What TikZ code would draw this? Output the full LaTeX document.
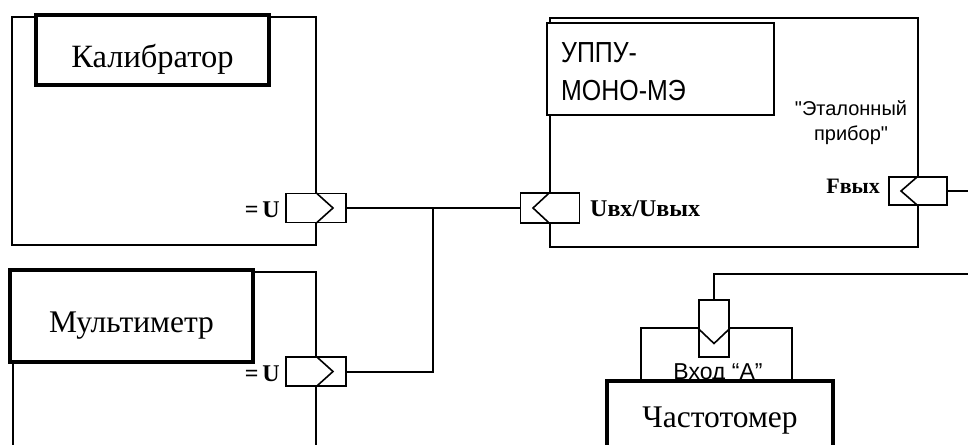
\documentclass[tikz,border=0pt]{standalone}
\usepackage{fontspec}
\setmainfont{Liberation Serif}
\newfontfamily\arialf{Liberation Sans}
\newcommand{\narrowtxt}[1]{\scalebox{0.86}[1]{#1}}
\begin{document}
\begin{tikzpicture}[x=1pt,y=-1pt,
  thinbox/.style={draw, line width=1.8pt, fill=white, inner sep=0pt},
  thickbox/.style={draw, line width=4.2pt, fill=white, inner sep=0pt},
  portbox/.style={draw, line width=1.6pt, fill=white, inner sep=0pt},
  chev/.style={line width=1.6pt, line join=miter},
  wire/.style={line width=2pt},
  bigtext/.style={font=\fontsize{31.5}{36}\selectfont, inner sep=0pt},
  uppufont/.style={font=\arialf\fontsize{29}{34}\selectfont, inner sep=0pt},
  boldlbl/.style={font=\fontsize{24}{28}\selectfont\bfseries, inner sep=0pt},
  sanslbl/.style={font=\arialf\fontsize{20}{25}\selectfont, inner sep=0pt, align=center}]
\useasboundingbox (0,0) rectangle (968,444);
\fill[white] (0,0) rectangle (968,444);
\clip (0,0) rectangle (968,444);

% Calibrator
\node[thinbox, minimum width=304pt, minimum height=228pt] (kOuter) at (164,131) {};
\node[thickbox, minimum width=233pt, minimum height=70pt] (kInner) at (152.5,50) {};
\node[bigtext, font=\fontsize{32.5}{36}\selectfont, anchor=base] (kText) at (152.5,67) {Калибратор};
\node[boldlbl, anchor=base east] (kU) at (280,217) {=\,U};
\node[portbox, minimum width=60pt, minimum height=29pt] (pK) at (316,208) {};
\draw[chev] (pK.north) -- ([xshift=17pt]pK.center) -- (pK.south);

% Multimeter
\node[thinbox, minimum width=303pt, minimum height=200pt] (mOuter) at (164.5,372) {};
\node[thickbox, minimum width=243pt, minimum height=92pt] (mInner) at (131.5,316) {};
\node[bigtext, anchor=base] (mText) at (131.5,332) {Мультиметр};
\node[boldlbl, anchor=base east] (mU) at (280,381) {=\,U};
\node[portbox, minimum width=60pt, minimum height=29pt] (pM) at (316,371.5) {};
\draw[chev] (pM.north) -- ([xshift=17pt]pM.center) -- (pM.south);

% UPPU
\node[thinbox, minimum width=368pt, minimum height=229pt] (uOuter) at (734,132.5) {};
\node[thinbox, minimum width=227pt, minimum height=92pt] (uInner) at (660.5,69) {};
\node[uppufont, anchor=base west] (uText1) at (561,63) {\narrowtxt{УППУ-}};
\node[uppufont, anchor=base west] (uText2) at (561,100) {\narrowtxt{МОНО-МЭ}};
\node[boldlbl, anchor=base west] (uLbl) at (590,216) {Uвх/Uвых};
\node[portbox, minimum width=59pt, minimum height=30pt] (pU) at (550,208) {};
\draw[chev] (pU.north) -- ([xshift=-17pt]pU.center) -- (pU.south);
\node[sanslbl, anchor=base] (etal) at (851,140) {"Эталонный\\прибор"};
\node[boldlbl, font=\fontsize{22}{26}\selectfont\bfseries, anchor=base east] (fLbl) at (880,193) {Fвых};
\node[portbox, minimum width=58pt, minimum height=28pt] (pF) at (918,191) {};
\draw[chev] (pF.north) -- ([xshift=-17pt]pF.center) -- (pF.south);

% Frequency counter
\node[thinbox, minimum width=151pt, minimum height=60pt] (cIn) at (716.5,358) {};
\node[sanslbl, font=\arialf\fontsize{23}{27}\selectfont, anchor=base] (cInLbl) at (718,379) {Вход “А”};
\node[thickbox, minimum width=226pt, minimum height=89pt] (cBox) at (720,425.5) {};
\node[bigtext, anchor=base] (cText) at (720,427) {Частотомер};
\node[portbox, minimum width=30pt, minimum height=57pt] (pA) at (714,328.5) {};
\draw[chev] (pA.west) -- ([yshift=-15pt]pA.center) -- (pA.east);

% connectors
\coordinate (jn) at (433,208);
\coordinate (fOut) at (968,191);
\coordinate (aOut) at (968,274);
\draw[wire] (pK.east) -- (pU.west);
\draw[wire] (pM.east) -| (jn);
\draw[wire] (pF.east) -- (fOut);
\draw[wire] (pA.north) |- (aOut);
\end{tikzpicture}
\end{document}
